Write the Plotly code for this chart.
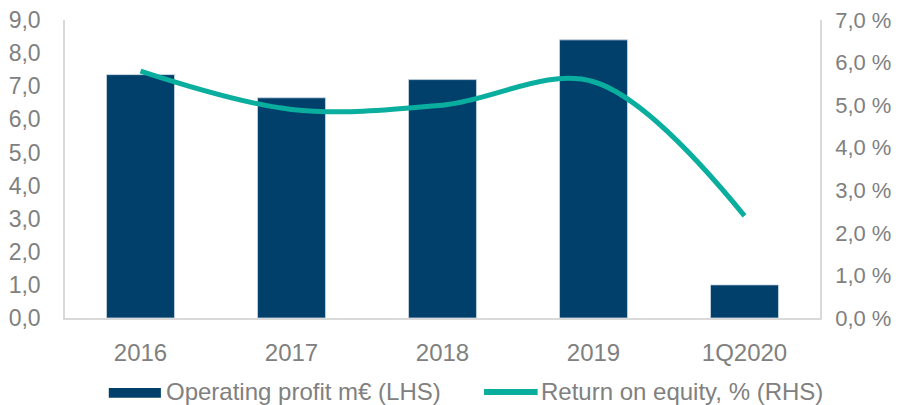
import plotly.graph_objects as go

# Data
periods = ["2016", "2017", "2018", "2019", "1Q2020"]
operating_profit = [7.35, 6.65, 7.2, 8.4, 1.0]
roe_pct = [5.8, 4.9, 5.0, 5.55, 2.4]
bar_label = "Operating profit m€ (LHS)"
line_label = "Return on equity, % (RHS)"

BAR_COLOR = "#00406B"
LINE_COLOR = "#0AAE9E"
GREY = "#808080"
AXIS_GREY = "#D9D9D9"
FONT = "Liberation Sans, Arial, sans-serif"

fig = go.Figure()

fig.add_trace(go.Bar(
    x=periods, y=operating_profit, name=bar_label,
    marker=dict(color=BAR_COLOR, line=dict(color="#C9D6E3", width=0.8)),
    yaxis="y",
))

fig.add_trace(go.Scatter(
    x=periods, y=roe_pct, name=line_label,
    mode="lines", line=dict(color=LINE_COLOR, width=5, shape="spline", smoothing=1.0),
    yaxis="y2",
))

# legend drawn by hand below the plot (wide Excel-style swatches)
leg_y = -0.248
fig.add_shape(type="rect", xref="paper", yref="paper",
              x0=0.058, x1=0.127, y0=-0.235, y1=-0.268,
              fillcolor=BAR_COLOR, line=dict(width=0))
fig.add_shape(type="line", xref="paper", yref="paper",
              x0=0.555, x1=0.626, y0=leg_y, y1=leg_y,
              line=dict(color=LINE_COLOR, width=6))
fig.add_annotation(text=bar_label, xref="paper", yref="paper", x=0.131, y=leg_y,
                   xanchor="left", yanchor="middle", showarrow=False,
                   font=dict(size=24, color=GREY))
fig.add_annotation(text=line_label, xref="paper", yref="paper", x=0.628, y=leg_y,
                   xanchor="left", yanchor="middle", showarrow=False,
                   font=dict(size=24, color=GREY))

# page body has an 8px default margin; the figure is offset accordingly
fig.update_layout(
    width=895, height=397,
    margin=dict(l=57, r=83, t=12, b=87),
    paper_bgcolor="white", plot_bgcolor="white",
    font=dict(family=FONT, size=23, color=GREY),
    separators=", ",
    bargap=0.55,
    showlegend=False,
    xaxis=dict(
        showline=True, linecolor=AXIS_GREY, linewidth=1.5, automargin=False,
        ticks="outside", ticklen=12, tickcolor="rgba(0,0,0,0)",
        tickfont=dict(size=24, color=GREY), showgrid=False,
        ticklabeloverflow="allow",
    ),
    yaxis=dict(
        range=[0, 9], dtick=1, tickformat=".1f", automargin=False,
        showline=True, linecolor=AXIS_GREY, linewidth=1.5,
        ticks="outside", ticklen=18, tickcolor="rgba(0,0,0,0)",
        showgrid=False, zeroline=False, ticklabeloverflow="allow",
        tickfont=dict(size=23, color=GREY),
    ),
    yaxis2=dict(
        range=[0, 7], dtick=1, tickformat=".1f", ticksuffix=" %",
        overlaying="y", side="right", automargin=False,
        showline=True, linecolor=AXIS_GREY, linewidth=1.5,
        ticks="outside", ticklen=9, tickcolor="rgba(0,0,0,0)",
        showgrid=False, zeroline=False, ticklabeloverflow="allow",
        tickfont=dict(size=22, color=GREY),
    ),
)

fig.write_html("out.html")
